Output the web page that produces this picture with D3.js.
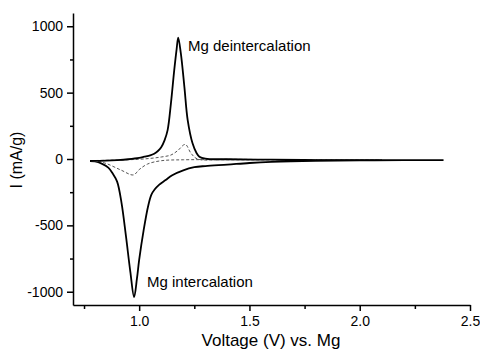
<!DOCTYPE html>
<html><head><meta charset="utf-8">
<script src="https://cdn.jsdelivr.net/npm/d3@7/dist/d3.min.js"></script>
<style>body{margin:0;background:#fff}svg{display:block;font-family:"Liberation Sans",Arial,sans-serif}</style>
</head><body><svg id="c" width="480" height="352"></svg>
<script>
// Solid CV: anodic (upper) branch, then cathodic (lower) branch
const solidUpV = [0.777,0.85,0.9,0.95,1.0,1.023,1.05,1.068,1.085,1.1,1.115,1.129,1.144,1.159,1.17,1.177,1.189,1.205,1.22,1.242,1.26,1.273,1.3,1.4,1.6,1.8,2.0,2.2,2.38];
const solidUpI = [-15,-12,-8,-2,8,17,28,40,60,88,140,218,419,669,830,915,795,544,293,118,45,17,2,-2,-5,-8,-9,-8,-8];
const solidDownV = [2.38,2.2,2.0,1.8,1.6,1.5,1.4,1.3,1.25,1.2,1.15,1.12,1.09,1.07,1.055,1.04,1.02,1.0,0.99,0.977,0.96,0.94,0.92,0.9,0.88,0.86,0.83,0.8,0.777];
const solidDownI = [-8,-9,-11,-14,-22,-30,-42,-53,-62,-85,-122,-158,-195,-230,-270,-360,-540,-760,-900,-1040,-850,-580,-330,-170,-110,-65,-35,-18,-15];
// Dashed CV (second scan)
const dashUpV = [0.78,0.85,0.9,1.0,1.053,1.1,1.144,1.174,1.209,1.235,1.265,1.4,1.6,1.8,2.1];
const dashUpI = [-12,-10,-8,-2,5,15,30,62,110,43,0,-2,-4,-5,-5];
const dashDownV = [2.1,1.8,1.5,1.2,1.1,1.038,1.0,0.974,0.917,0.849,0.8,0.78];
const dashDownI = [-5,-6,-6,-6,-13,-38,-80,-120,-83,-33,-14,-12];
const xTicks = [1.0,1.5,2.0,2.5];
const xMinor = [0.75,1.25,1.75,2.25];
const yTicks = [-1000,-500,0,500,1000];
const yMinor = [-750,-250,250,750];

const svg = d3.select("#c");
const x = d3.scaleLinear().domain([0.7,2.5]).range([73,470]);
const y = d3.scaleLinear().domain([-1100,1100]).range([305,13]);

const ax = svg.append("g").attr("transform","translate(0,305)")
  .call(d3.axisBottom(x).tickValues(xTicks).tickFormat(d=>d.toFixed(1)).tickSize(6).tickSizeOuter(0).tickPadding(5));
const axm = svg.append("g").attr("transform","translate(0,305)")
  .call(d3.axisBottom(x).tickValues(xMinor).tickFormat("").tickSize(4).tickSizeOuter(0));
const ay = svg.append("g").attr("transform","translate(73,0)")
  .call(d3.axisLeft(y).tickValues(yTicks).tickFormat(d=>String(d)).tickSize(6).tickSizeOuter(0).tickPadding(4));
const aym = svg.append("g").attr("transform","translate(73,0)")
  .call(d3.axisLeft(y).tickValues(yMinor).tickFormat("").tickSize(3).tickSizeOuter(0));
[ax,axm,ay,aym].forEach(g=>{
  g.selectAll("path,line").attr("stroke","#000").attr("stroke-width",1.5);
  g.selectAll("text").attr("fill","#000").style("font-size","14px").style("font-family","'Liberation Sans',Arial,sans-serif");
});
axm.select(".domain").remove(); aym.select(".domain").remove();

const line = d3.line().x(d=>x(d[0])).y(d=>y(d[1])).curve(d3.curveCatmullRom.alpha(0.5));
const zip = (a,b)=>a.map((v,i)=>[v,b[i]]);

svg.append("path").datum(zip(dashUpV,dashUpI).concat(zip(dashDownV,dashDownI)))
  .attr("d",line).attr("fill","none").attr("stroke","#555").attr("stroke-width",1).attr("stroke-dasharray","3,2");
svg.append("path").datum(zip(solidUpV,solidUpI).concat(zip(solidDownV,solidDownI)))
  .attr("d",line).attr("fill","none").attr("stroke","#000").attr("stroke-width",1.8);

svg.append("text").attr("x",188).attr("y",51).style("font-size","15px").text("Mg deintercalation");
svg.append("text").attr("x",147).attr("y",287).style("font-size","15px").text("Mg intercalation");
svg.append("text").attr("x",271).attr("y",346).attr("text-anchor","middle").style("font-size","17px").text("Voltage (V) vs. Mg");
svg.append("text").attr("transform","translate(22,160) rotate(-90)").attr("text-anchor","middle").style("font-size","16px").text("I (mA/g)");
</script></body></html>
